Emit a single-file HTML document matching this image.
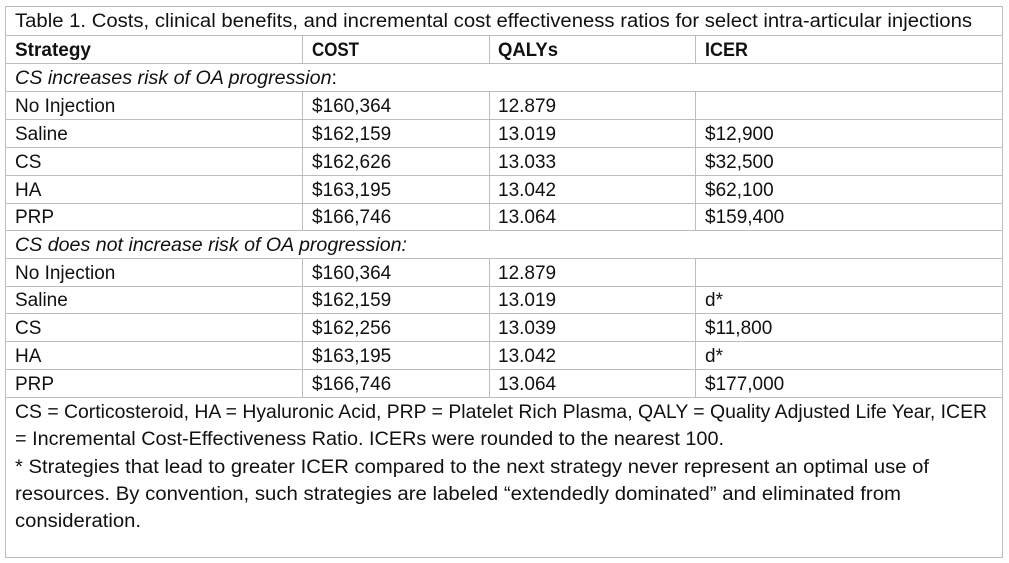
<!DOCTYPE html>
<html><head><meta charset="utf-8"><style>
html,body{margin:0;padding:0;background:#fff;}
svg{display:block;}
text{font-family:"Liberation Sans",sans-serif;font-size:19px;fill:#111;}
.b{font-weight:bold;}
.i{font-style:italic;}
</style></head><body>
<svg width="1009" height="563" viewBox="0 0 1009 563" xmlns="http://www.w3.org/2000/svg">
<g stroke="#bdbdbd" stroke-width="1" fill="none">
<rect x="5.5" y="6.5" width="997" height="551"/>
<line x1="5" y1="35.5" x2="1002" y2="35.5"/>
<line x1="5" y1="63.5" x2="1002" y2="63.5"/>
<line x1="5" y1="91.5" x2="1002" y2="91.5"/>
<line x1="5" y1="119.5" x2="1002" y2="119.5"/>
<line x1="5" y1="147.5" x2="1002" y2="147.5"/>
<line x1="5" y1="175.5" x2="1002" y2="175.5"/>
<line x1="5" y1="203.5" x2="1002" y2="203.5"/>
<line x1="5" y1="230.5" x2="1002" y2="230.5"/>
<line x1="5" y1="258.5" x2="1002" y2="258.5"/>
<line x1="5" y1="286.5" x2="1002" y2="286.5"/>
<line x1="5" y1="313.5" x2="1002" y2="313.5"/>
<line x1="5" y1="341.5" x2="1002" y2="341.5"/>
<line x1="5" y1="369.5" x2="1002" y2="369.5"/>
<line x1="5" y1="397.5" x2="1002" y2="397.5"/>
<line x1="302.5" y1="35" x2="302.5" y2="63"/>
<line x1="489.5" y1="35" x2="489.5" y2="63"/>
<line x1="695.5" y1="35" x2="695.5" y2="63"/>
<line x1="302.5" y1="91" x2="302.5" y2="230"/>
<line x1="489.5" y1="91" x2="489.5" y2="230"/>
<line x1="695.5" y1="91" x2="695.5" y2="230"/>
<line x1="302.5" y1="258" x2="302.5" y2="397"/>
<line x1="489.5" y1="258" x2="489.5" y2="397"/>
<line x1="695.5" y1="258" x2="695.5" y2="397"/>
</g>
<text x="15" y="27" textLength="957" lengthAdjust="spacingAndGlyphs">Table 1. Costs, clinical benefits, and incremental cost effectiveness ratios for select intra-articular injections</text>
<text class="b" x="15" y="56" textLength="76" lengthAdjust="spacingAndGlyphs">Strategy</text>
<text class="b" x="312" y="56" textLength="47" lengthAdjust="spacingAndGlyphs">COST</text>
<text class="b" x="498" y="56" textLength="60" lengthAdjust="spacingAndGlyphs">QALYs</text>
<text class="b" x="705" y="56" textLength="43" lengthAdjust="spacingAndGlyphs">ICER</text>
<text x="15" y="84" textLength="322" lengthAdjust="spacingAndGlyphs"><tspan class="i">CS increases risk of OA progression</tspan>:</text>
<g>
<text x="15" y="112">No Injection</text><text x="312" y="112">$160,364</text><text x="498" y="112">12.879</text>
<text x="15" y="140">Saline</text><text x="312" y="140">$162,159</text><text x="498" y="140">13.019</text><text x="705" y="140">$12,900</text>
<text x="15" y="168">CS</text><text x="312" y="168">$162,626</text><text x="498" y="168">13.033</text><text x="705" y="168">$32,500</text>
<text x="15" y="196">HA</text><text x="312" y="196">$163,195</text><text x="498" y="196">13.042</text><text x="705" y="196">$62,100</text>
<text x="15" y="223">PRP</text><text x="312" y="223">$166,746</text><text x="498" y="223">13.064</text><text x="705" y="223">$159,400</text>
</g>
<text class="i" x="15" y="251" textLength="392" lengthAdjust="spacingAndGlyphs">CS does not increase risk of OA progression:</text>
<g>
<text x="15" y="279">No Injection</text><text x="312" y="279">$160,364</text><text x="498" y="279">12.879</text>
<text x="15" y="306">Saline</text><text x="312" y="306">$162,159</text><text x="498" y="306">13.019</text><text x="705" y="306">d*</text>
<text x="15" y="334">CS</text><text x="312" y="334">$162,256</text><text x="498" y="334">13.039</text><text x="705" y="334">$11,800</text>
<text x="15" y="362">HA</text><text x="312" y="362">$163,195</text><text x="498" y="362">13.042</text><text x="705" y="362">d*</text>
<text x="15" y="390">PRP</text><text x="312" y="390">$166,746</text><text x="498" y="390">13.064</text><text x="705" y="390">$177,000</text>
</g>
<text x="15" y="418" textLength="972" lengthAdjust="spacingAndGlyphs">CS = Corticosteroid, HA = Hyaluronic Acid, PRP = Platelet Rich Plasma, QALY = Quality Adjusted Life Year, ICER</text>
<text x="15" y="445" textLength="709" lengthAdjust="spacingAndGlyphs">= Incremental Cost-Effectiveness Ratio. ICERs were rounded to the nearest 100.</text>
<text x="15" y="473" textLength="914" lengthAdjust="spacingAndGlyphs">* Strategies that lead to greater ICER compared to the next strategy never represent an optimal use of</text>
<text x="15" y="500" textLength="886" lengthAdjust="spacingAndGlyphs">resources. By convention, such strategies are labeled “extendedly dominated” and eliminated from</text>
<text x="15" y="527" textLength="126" lengthAdjust="spacingAndGlyphs">consideration.</text>
</svg>
</body></html>
